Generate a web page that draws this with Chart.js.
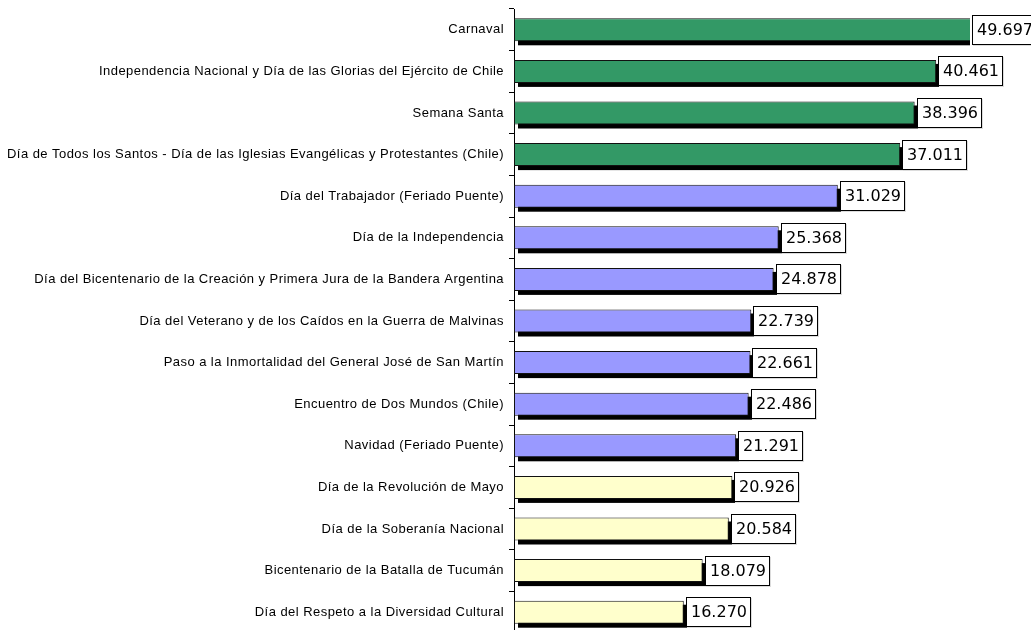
<!DOCTYPE html>
<html><head><meta charset="utf-8">
<script src="https://cdn.jsdelivr.net/npm/chart.js@4/dist/chart.umd.min.js"></script>
<style>html,body{margin:0;padding:0;background:#fff;overflow:hidden}#wrap{position:relative;width:1031px;height:635px}</style>
</head><body><div id="wrap"><canvas id="c"></canvas></div>
<script>
const categories = [
  'Carnaval',
  'Independencia Nacional y Día de las Glorias del Ejército de Chile',
  'Semana Santa',
  'Día de Todos los Santos - Día de las Iglesias Evangélicas y Protestantes (Chile)',
  'Día del Trabajador (Feriado Puente)',
  'Día de la Independencia',
  'Día del Bicentenario de la Creación y Primera Jura de la Bandera Argentina',
  'Día del Veterano y de los Caídos en la Guerra de Malvinas',
  'Paso a la Inmortalidad del General José de San Martín',
  'Encuentro de Dos Mundos (Chile)',
  'Navidad (Feriado Puente)',
  'Día de la Revolución de Mayo',
  'Día de la Soberanía Nacional',
  'Bicentenario de la Batalla de Tucumán',
  'Día del Respeto a la Diversidad Cultural'
];
const values = [49.697, 40.461, 38.396, 37.011, 31.029, 25.368, 24.878, 22.739, 22.661, 22.486, 21.291, 20.926, 20.584, 18.079, 16.270];
const tiers = ['top','top','top','top','mid','mid','mid','mid','mid','mid','mid','low','low','low','low'];

const tierColors = {top:'#339966', mid:'#9999FF', low:'#FFFFCC'};

const spacingPlugin = {
  id:'spacing',
  beforeDraw(chart){ chart.ctx.letterSpacing = '0.45px'; }
};

const shadowPlugin = {
  id:'shadow',
  beforeDatasetsDraw(chart){
    const ctx = chart.ctx, a = chart.chartArea;
    const meta = chart.getDatasetMeta(0);
    ctx.save();
    ctx.beginPath();
    ctx.rect(a.left, a.top, a.right - a.left, a.bottom - a.top);
    ctx.clip();
    ctx.fillStyle = '#000';
    meta.data.forEach(b => {
      const p = b.getProps(['x','y','base','height'], true);
      ctx.fillRect(p.base + 4, p.y - p.height/2 + 4, p.x - p.base, p.height);
    });
    ctx.restore();
  }
};

const labelPlugin = {
  id:'boxLabels',
  afterDatasetsDraw(chart){
    const ctx = chart.ctx, a = chart.chartArea;
    const meta = chart.getDatasetMeta(0);
    ctx.save();
    ctx.letterSpacing = '0px';
    ctx.font = '16px "DejaVu Sans"';
    ctx.textBaseline = 'middle';
    ctx.textAlign = 'left';
    meta.data.forEach((b, i) => {
      const p = b.getProps(['x','y'], true);
      const txt = values[i].toFixed(3);
      const x0 = Math.round(Math.min(p.x, a.right) + 2);
      const w = Math.round(ctx.measureText(txt).width + 9);
      const h = 30;
      const y0 = Math.round(p.y - h/2);
      ctx.fillStyle = '#dcdcdc';
      ctx.fillRect(x0 + 1, y0 + 1, w, h);
      ctx.fillStyle = '#fff';
      ctx.fillRect(x0, y0, w, h);
      ctx.strokeStyle = '#000';
      ctx.lineWidth = 1;
      ctx.strokeRect(x0 + 0.5, y0 + 0.5, w - 1, h - 1);
      ctx.fillStyle = '#000';
      ctx.fillText(txt, x0 + 5, y0 + h/2 + 1);
    });
    ctx.restore();
  }
};

new Chart(document.getElementById('c'), {
  type: 'bar',
  data: {
    labels: categories,
    datasets: [{
      data: values,
      backgroundColor: tiers.map(t => tierColors[t]),
      borderColor: '#111',
      borderWidth: 1,
      borderSkipped: false,
      categoryPercentage: 1,
      barPercentage: 0.553
    }]
  },
  options: {
    indexAxis: 'y',
    responsive: true,
    maintainAspectRatio: false,
    animation: false,
    layout: { padding: { top: 9, bottom: 2, left: 0, right: 61 } },
    plugins: { legend: { display: false }, tooltip: { enabled: false } },
    scales: {
      x: { type: 'linear', min: 0, max: 43.7, display: false },
      y: {
        afterFit(scale){ scale.width = 514; scale.paddingTop = 0; scale.paddingBottom = 0; },
        grid: { display: true, drawOnChartArea: false, drawTicks: true, tickLength: 5, color: '#000', offset: true },
        border: { display: true, color: '#000', width: 1 },
        ticks: { color: '#000', font: { family: '"Liberation Sans", Arial', size: 13 }, padding: 5, autoSkip: false }
      }
    }
  },
  plugins: [spacingPlugin, shadowPlugin, labelPlugin]
});
</script>
</body></html>
